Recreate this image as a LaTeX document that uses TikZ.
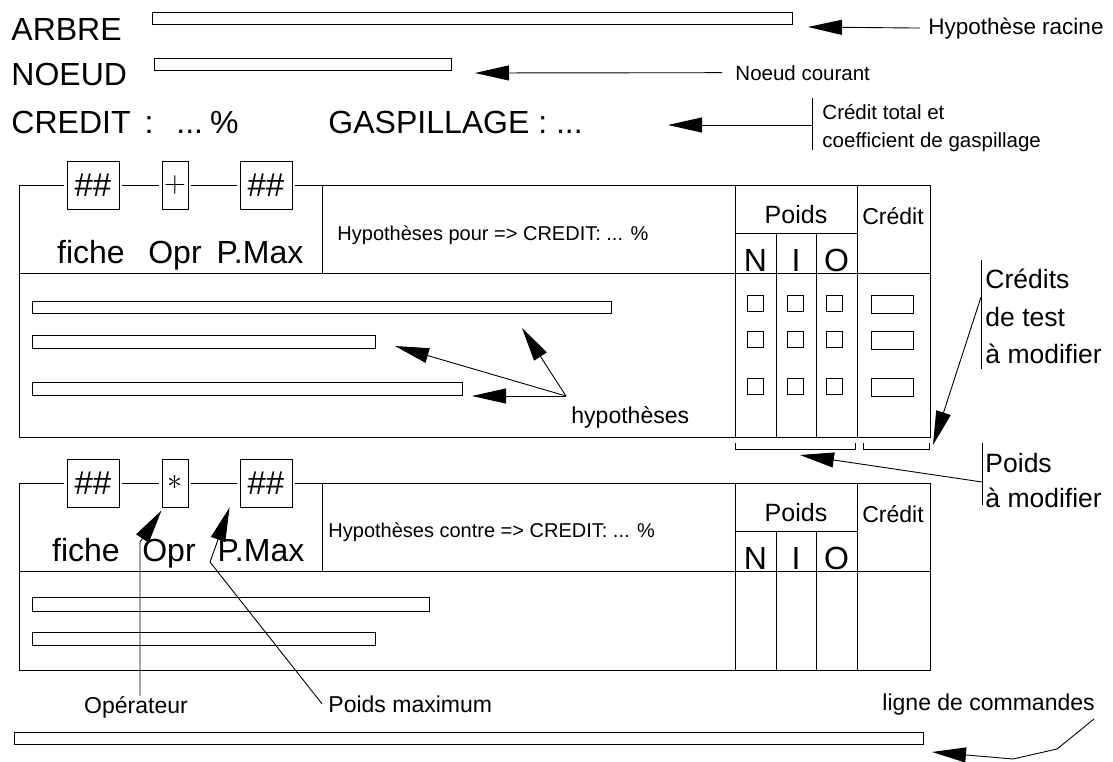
\RequirePackage{fix-cm}
\documentclass[tikz,border=0pt]{standalone}
\usepackage{fontspec}
\setmainfont{Liberation Sans}
\usetikzlibrary{arrows.meta, calc}

\tikzset{
  grand/.style={inner sep=0pt, font=\fontsize{32}{36}\selectfont},
  moyen/.style={inner sep=0pt, font=\fontsize{26.5}{30}\selectfont},
  legende/.style={inner sep=0pt, font=\fontsize{23}{26}\selectfont},
  petit/.style={inner sep=0pt, font=\fontsize{20.5}{24}\selectfont},
  casenum/.style={draw, inner sep=0pt, minimum width=52pt, minimum height=48pt, font=\fontsize{33}{33}\selectfont},
  caseop/.style={draw, inner sep=0pt, minimum width=26pt, minimum height=48pt, font=\fontsize{30}{30}\selectfont},
  fleche/.style={-{Triangle[length=34pt,width=15pt]}},
}

\begin{document}
\begin{tikzpicture}[x=1pt, y=-1pt, line width=0.9pt]
  \useasboundingbox (0,0) rectangle (1113,761);

  % en-tete
  \node[grand, anchor=base west] (arbre) at (11,40) {ARBRE};
  \node[grand, anchor=base west] (noeud) at (11,85) {NOEUD};
  \node[grand, anchor=base west] (credit) at (11,133) {CREDIT\hspace{14pt}:\hspace{23pt}...\hspace{7pt}\%};
  \node[grand, anchor=base west] (gaspi) at (328,133) {GASPILLAGE : ...};
  \draw (152,12) rectangle (792,24);
  \draw (154,58) rectangle (451,70);

  \coordinate (racine) at (808,27);
  \coordinate (courant) at (475,73);
  \coordinate (total) at (668,125);
  \coordinate (trait) at (812,125);
  \node[petit, anchor=base west, font=\fontsize{22.5}{26}\selectfont] (hyprac) at (928,34) {Hypothèse racine};
  \node[petit, anchor=base west] (noeudc) at (735,80) {Noeud courant};
  \node[petit, anchor=base west] (credtot) at (822,119) {Crédit total et};
  \node[petit, anchor=base west] (coeff) at (822,147) {coefficient de gaspillage};
  \draw[fleche] ([xshift=-8pt]hyprac.west) -- (racine);
  \draw[fleche] ([xshift=-13pt]noeudc.west) -- (courant);
  \draw (812,98) -- (812,150);
  \draw[fleche] (trait) -- (total);

  % panneau pour
  \node[casenum] (fiche1) at (93,185) {\#\#};
  \node[caseop] (opr1) at (175,185) {$+$};
  \node[casenum] (pmax1) at (266,185) {\#\#};
  \draw ([xshift=-3pt]fiche1.west) -- (19,185) -- (19,437) -- (930,437) -- (930,185) -- ([xshift=3pt]pmax1.east);
  \draw ([xshift=3pt]fiche1.east) -- ([xshift=-3pt]opr1.west);
  \draw ([xshift=3pt]opr1.east) -- ([xshift=-3pt]pmax1.west);
  \draw (19,273) -- (930,273);
  \draw (322,185) -- (322,273);
  \draw (735,185) -- (735,437);
  \draw (857,185) -- (857,437);
  \draw (735,233) -- (857,233);
  \draw (776,233) -- (776,437);
  \draw (816,233) -- (816,437);
  \node[grand, anchor=base] (lfiche1) at (91,263) {fiche};
  \node[grand, anchor=base] (lopr1) at (175,263) {Opr};
  \node[grand, anchor=base] (lpmax1) at (260,263) {P.Max};
  \node[petit, anchor=base west, font=\fontsize{20}{24}\selectfont] (pour) at (337,240) {Hypothèses pour => CREDIT: ... \%};
  \node[moyen, anchor=base, font=\fontsize{25}{28}\selectfont] (poids1) at (796,223) {Poids};
  \node[legende, anchor=base] (cred1) at (893,224) {Crédit};
  \node[grand, anchor=base] (n1) at (755.5,271) {N};
  \node[grand, anchor=base] (i1) at (796,271) {I};
  \node[grand, anchor=base] (o1) at (836.5,271) {O};

  \draw (32,301) rectangle (611,313);
  \draw (32,335) rectangle (375,348);
  \draw (32,382) rectangle (462,395);
  \foreach \y in {295,331,378} {
    \draw (747,\y) rectangle ++(16,16);
    \draw (787,\y) rectangle ++(16,16);
    \draw (826,\y) rectangle ++(16,16);
    \draw (871,\y) rectangle ++(42,18);
  }
  \draw (735,443) -- (735,449) -- (855,449) -- (855,443);
  \draw (863,443) -- (863,449) -- (929,449) -- (929,443);

  \node[legende, anchor=base west] (hyps) at (571,423) {hypothèses};
  \coordinate (hypo) at (566,396);
  \coordinate (h1) at (522,328);
  \coordinate (h2) at (395,346);
  \coordinate (h3) at (472,396);
  \draw[fleche] (hypo) -- (h1);
  \draw[fleche] (hypo) -- (h2);
  \draw[fleche] (hypo) -- (h3);

  % credits et poids a modifier
  \draw (981,260) -- (981,369);
  \node[moyen, anchor=base west] (cr1) at (985,288) {Crédits};
  \node[moyen, anchor=base west] (cr2) at (985,326) {de test};
  \node[moyen, anchor=base west] (cr3) at (985,363) {à modifier};
  \coordinate (cmod) at (981,297);
  \coordinate (cbrak) at (933,445);
  \draw[fleche] (cmod) -- (cbrak);
  \draw (982,443) -- (982,505);
  \node[moyen, anchor=base west] (pm1) at (985,472) {Poids};
  \node[moyen, anchor=base west] (pm2) at (985,507) {à modifier};
  \coordinate (pmod) at (982,482);
  \coordinate (pbrak) at (800,455);
  \draw[fleche] (pmod) -- (pbrak);

  % panneau contre
  \node[casenum] (fiche2) at (93,483) {\#\#};
  \node[caseop] (opr2) at (175,483) {$\ast$};
  \node[casenum] (pmax2) at (266,483) {\#\#};
  \draw ([xshift=-3pt]fiche2.west) -- (19,483) -- (19,670) -- (930,670) -- (930,483) -- ([xshift=3pt]pmax2.east);
  \draw ([xshift=3pt]fiche2.east) -- ([xshift=-3pt]opr2.west);
  \draw ([xshift=3pt]opr2.east) -- ([xshift=-3pt]pmax2.west);
  \draw (19,571) -- (930,571);
  \draw (322,483) -- (322,571);
  \draw (735,483) -- (735,670);
  \draw (857,483) -- (857,670);
  \draw (735,531) -- (857,531);
  \draw (776,531) -- (776,670);
  \draw (816,531) -- (816,670);
  \node[grand, anchor=base] (lfiche2) at (86,561) {fiche};
  \node[grand, anchor=base] (lopr2) at (169,561) {Opr};
  \node[grand, anchor=base] (lpmax2) at (261,561) {P.Max};
  \node[petit, anchor=base west, font=\fontsize{20}{24}\selectfont] (contre) at (328,537) {Hypothèses contre => CREDIT: ... \%};
  \node[moyen, anchor=base, font=\fontsize{25}{28}\selectfont] (poids2) at (796,521) {Poids};
  \node[legende, anchor=base] (cred2) at (893,522) {Crédit};
  \node[grand, anchor=base] (n2) at (755.5,569) {N};
  \node[grand, anchor=base] (i2) at (796,569) {I};
  \node[grand, anchor=base] (o2) at (836.5,569) {O};
  \draw (32,597) rectangle (429,611);
  \draw (32,632) rectangle (375,645);

  \node[legende, anchor=base] (operateur) at (136,713) {Opérateur};
  \node[legende, anchor=base west] (poidsmax) at (328,712) {Poids maximum};
  \draw[fleche] ([xshift=4pt]operateur.north) -- (140,542) -- ([yshift=-3pt]opr2.south west);
  \draw[fleche] ([xshift=-6pt]poidsmax.west) -- (210,562) -- ([xshift=-10pt]pmax2.south west);

  % ligne de commandes
  \node[legende, anchor=base west] (lcmd) at (882,710) {ligne de commandes};
  \draw (14,732) rectangle (923,744);
  \coordinate (cmd) at (932,752);
  \draw[fleche] (1094,719) -- (1057,749) -- (1013,759) -- (cmd);
\end{tikzpicture}
\end{document}
